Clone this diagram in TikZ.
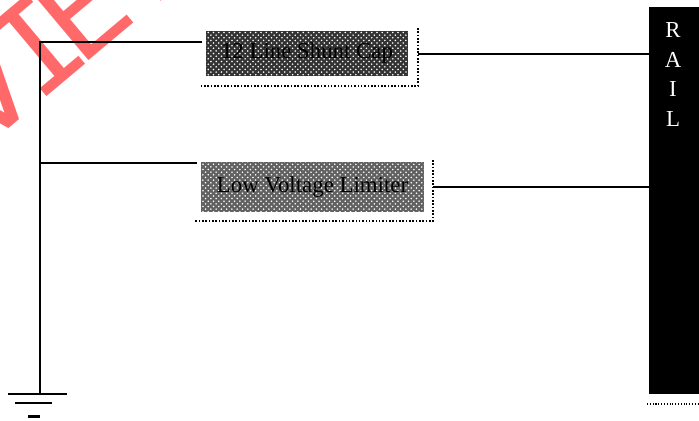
\documentclass[tikz,border=0pt]{standalone}
\usepackage{fontspec}
\setmainfont{Liberation Serif}
\newfontfamily\marksans{DejaVu Sans}
\newfontfamily\markmono{DejaVu Sans Mono}
\usepackage{xcolor}
\usetikzlibrary{positioning}
\usetikzlibrary{patterns}
\definecolor{markred}{RGB}{255,105,105}
\tikzset{
  wire/.style={line width=1.1pt,black},
  shadowline/.style={line width=0.9pt,black,densely dotted},
  stipplebox/.style={draw=none,fill=black!#1,minimum height=0.9cm,inner sep=0pt},
  boxlabel/.style={text=black,font=\fontsize{13}{13}\selectfont,inner sep=0pt},
  railletter/.style={text=white,font=\fontsize{13}{13}\selectfont,inner sep=0pt}
}
\begin{document}
\begin{tikzpicture}
\useasboundingbox (0,0) rectangle (13.98,-8.4);

% watermark
\begin{scope}
\clip (0,0) rectangle (13.98,-8.4);
\node (mark) [rotate=40,text=markred,font=\marksans\fontsize{71}{71}\selectfont,inner sep=0pt,anchor=base west] at (-0.38,-3.04) {V\kern-7pt{\markmono I}\kern-11pt EW};
\end{scope}

% boxes and their shadows
\node (shuntbox) [stipplebox=80,minimum width=4.04cm] at (6.14,-1.06) {};
\fill [pattern=crosshatch dots,pattern color=white] (shuntbox.south west) rectangle (shuntbox.north east);
\node (shuntlabel) [boxlabel] at (shuntbox) {12 Line Shunt Cap};
\coordinate (shuntcorner) at (8.36,-1.72);
\draw [shadowline] (8.36,-0.56) -- (shuntcorner) -- (4.02,-1.72);

\node (limitbox) [stipplebox=62,minimum width=4.46cm,minimum height=1cm] at (6.25,-3.74) {};
\fill [pattern=crosshatch dots,pattern color=white] (limitbox.south west) rectangle (limitbox.north east);
\node (limitlabel) [boxlabel] at (limitbox) {Low Voltage Limiter};
\coordinate (limitcorner) at (8.66,-4.42);
\draw [shadowline] (8.66,-3.2) -- (limitcorner) -- (3.9,-4.42);

% rail
\node (rail) [fill=black,minimum width=1cm,minimum height=7.74cm,inner sep=0pt,anchor=north west] at (12.98,-0.14) {};
\node (railR) [railletter] at (13.46,-0.6) {R};
\node (railA) [railletter,below=0.28cm of railR] {A};
\node (railI) [railletter,below=0.28cm of railA] {I};
\node (railL) [railletter,below=0.28cm of railI] {L};
\draw [densely dotted,line width=0.6pt] (12.94,-8.08) -- (13.98,-8.08);

% wires
\coordinate (top) at (0.8,-0.84);
\coordinate (mid) at (0.8,-3.26);
\coordinate (gnd) at (0.8,-7.88);
\draw [wire] (4.04,-0.84) -- (top) -- (gnd);
\draw [wire] (mid) -- (3.94,-3.26);
\draw [wire] (8.36,-1.08) -- (rail.west |- 8.36,-1.08);
\draw [wire] (8.66,-3.74) -- (rail.west |- 8.66,-3.74);

% ground
\draw [wire,line width=1.2pt] (0.16,-7.88) -- (1.34,-7.88);
\draw [wire,line width=1.2pt] (0.3,-8.06) -- (1.04,-8.06);
\draw [wire,line width=1.2pt] (0.56,-8.33) -- (0.8,-8.33);
\end{tikzpicture}
\end{document}
